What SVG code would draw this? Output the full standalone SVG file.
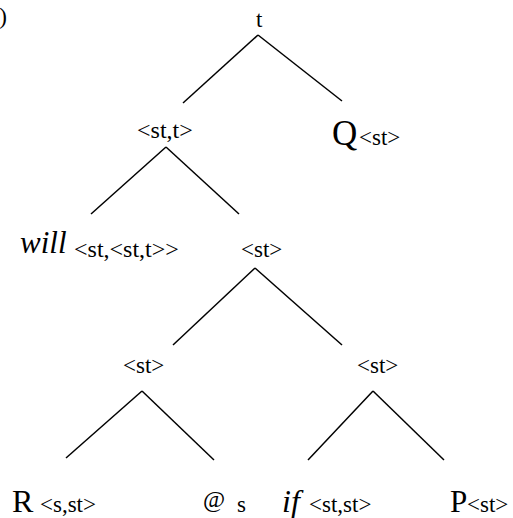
<svg xmlns="http://www.w3.org/2000/svg" width="513" height="518" viewBox="0 0 513 518">
<style>
text{font-family:"Liberation Serif","Times New Roman",serif;fill:#000}
.sub{font-size:23px}
.big{font-size:32px}
.it{font-style:italic}
#edges line{stroke:#000;stroke-width:1.5;stroke-linecap:butt}
</style>
<rect width="513" height="518" fill="#fff"/>
<text x="7" y="24" font-size="23" text-anchor="end">)</text>
<g id="edges">
<line x1="258" y1="35" x2="183" y2="103"/>
<line x1="258" y1="35" x2="342" y2="101"/>
<line x1="166" y1="147" x2="91" y2="214"/>
<line x1="166" y1="147" x2="239" y2="214"/>
<line x1="255" y1="268" x2="173" y2="345"/>
<line x1="255" y1="268" x2="342" y2="345"/>
<line x1="142" y1="391" x2="66" y2="458"/>
<line x1="142" y1="391" x2="214" y2="460"/>
<line x1="373" y1="391" x2="308" y2="460"/>
<line x1="373" y1="391" x2="444" y2="460"/>
</g>
<g id="n-root"><text x="256" y="27" class="sub">t</text></g>
<g id="n-stt"><text x="137" y="138" font-size="24">&lt;st,t&gt;</text></g>
<g id="n-Q"><text x="332" y="145" font-size="35">Q</text><text x="359" y="145" class="sub">&lt;st&gt;</text></g>
<g id="n-will"><text x="20" y="253" font-size="31" class="it">will</text><text x="74" y="257" font-size="24">&lt;st,&lt;st,t&gt;&gt;</text></g>
<g id="n-st1"><text x="241" y="257" class="sub">&lt;st&gt;</text></g>
<g id="n-st2"><text x="123" y="373" class="sub">&lt;st&gt;</text></g>
<g id="n-st3"><text x="357" y="373" class="sub">&lt;st&gt;</text></g>
<g id="n-R"><text x="12" y="512" class="big">R</text><text x="40" y="512" class="sub">&lt;s,st&gt;</text></g>
<g id="n-at"><text x="203" y="507" font-size="24">@</text><text x="237" y="512" class="sub">s</text></g>
<g id="n-if"><text x="282" y="512" class="big it">if</text><text x="309" y="512" class="sub">&lt;st,st&gt;</text></g>
<g id="n-P"><text x="450" y="512" font-size="31">P</text><text x="467" y="512" class="sub">&lt;st&gt;</text></g>
</svg>
